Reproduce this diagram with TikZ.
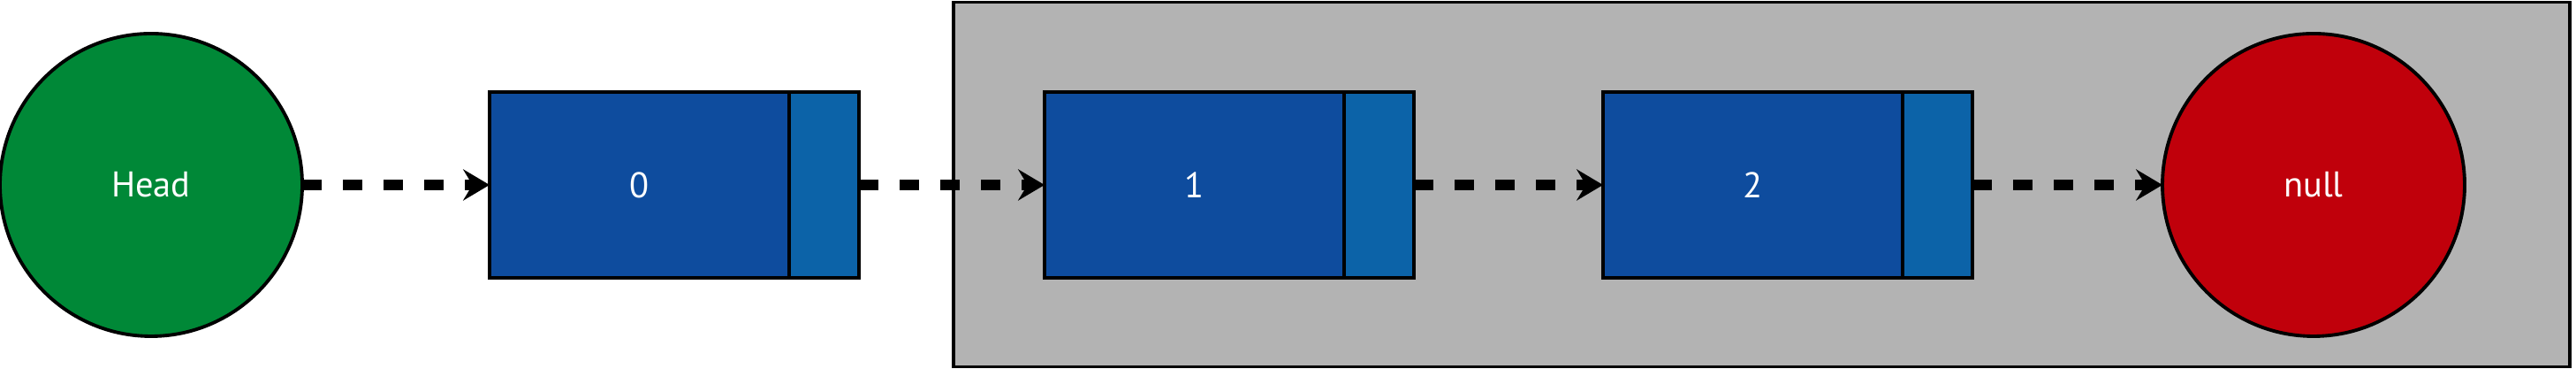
\documentclass[tikz,border=0pt]{standalone}
\usepackage{fontspec}
\setmainfont{PT Sans}
\usetikzlibrary{positioning,arrows.meta}

\definecolor{headgreen}{RGB}{0,136,55}
\definecolor{datablue}{RGB}{14,76,158}
\definecolor{ptrblue}{RGB}{12,99,168}
\definecolor{nullred}{RGB}{192,0,11}
\definecolor{panelgray}{RGB}{179,179,179}

\tikzset{
  every node/.style={outer sep=0pt, line width=1.1pt, draw=black, text=white,
    font=\fontsize{11.5}{14}\selectfont},
  endpoint/.style={circle, minimum size=3.42cm},
  datacell/.style={rectangle, fill=datablue, minimum width=3.39cm, minimum height=2.1cm},
  ptrcell/.style={rectangle, fill=ptrblue, minimum width=0.79cm, minimum height=2.1cm},
  panel/.style={rectangle, fill=panelgray},
  link/.style={line width=3.4pt, dash pattern=on 6.3pt off 6.8pt,
    -{Stealth[length=8.5pt, width=10pt, inset=3pt]}},
}

\begin{document}
\begin{tikzpicture}
  \useasboundingbox (0,0) rectangle (29.15,4.17);
  % the part of the list after the first element
  \node [panel, minimum width=18.29cm, minimum height=4.12cm] (rest) at (19.935,2.085) {};

  \node [endpoint, fill=headgreen] (head) at (1.71,2.08) {Head};
  \node [datacell, right=2.12cm of head] (n0) {0};
  \node [ptrcell, right=0pt of n0] (p0) {};
  \node [datacell, right=2.10cm of p0] (n1) {1};
  \node [ptrcell, right=0pt of n1] (p1) {};
  \node [datacell, right=2.14cm of p1] (n2) {2};
  \node [ptrcell, right=0pt of n2] (p2) {};
  \node [endpoint, fill=nullred, right=2.15cm of p2] (null) {null};

  \draw [link] (head) -- (n0);
  \draw [link] (p0) -- (n1);
  \draw [link] (p1) -- (n2);
  \draw [link] (p2) -- (null);
\end{tikzpicture}
\end{document}
